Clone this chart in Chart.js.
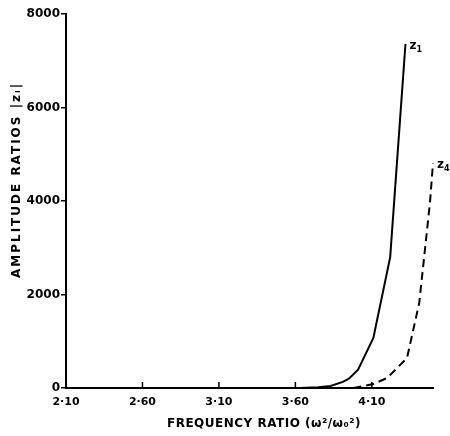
<!DOCTYPE html>
<html>
<head>
<meta charset="utf-8">
<script src="https://cdn.jsdelivr.net/npm/chart.js@4.4.1/dist/chart.umd.min.js"></script>
<style>
  html, body { margin: 0; padding: 0; background: #fff; }
  #wrap { width: 450px; height: 436px; }
</style>
</head>
<body>
<div id="wrap"><canvas id="chart" width="450" height="436"></canvas></div>
<script>
// frequency ratio / amplitude ratio readings
const freqZ1 = [3.63, 3.75, 3.83, 3.91, 3.95, 4.01, 4.11, 4.22, 4.32];
const ampZ1 = [0, 15, 45, 130, 200, 390, 1070, 2800, 7360];

const freqZ4 = [3.98, 4.11, 4.20, 4.33, 4.41, 4.48, 4.50];
const ampZ4 = [0, 85, 215, 640, 1820, 3960, 4810];

const xTicks = [2.10, 2.60, 3.10, 3.60, 4.10];
const yTicks = [0, 2000, 4000, 6000, 8000];

const xTitle = "FREQUENCY RATIO (ω²/ω₀²)";
const yTitle = "AMPLITUDE RATIOS |zᵢ|";

const FONT = "'DejaVu Sans', 'Liberation Sans', sans-serif";

function toPoints(xs, ys) {
  return xs.map((x, i) => ({ x: x, y: ys[i] }));
}

// inward tick marks on the x axis, axis titles, curve labels
const extras = {
  id: "extras",
  afterDatasetsDraw(chart) {
    const ctx = chart.ctx;
    const xs = chart.scales.x;
    const ys = chart.scales.y;
    const base = ys.getPixelForValue(0);
    ctx.save();
    ctx.strokeStyle = "#000";
    ctx.lineWidth = 1.5;
    xTicks.slice(1).forEach((v) => {
      const px = xs.getPixelForValue(v);
      ctx.beginPath();
      ctx.moveTo(px, base);
      ctx.lineTo(px, base - 6);
      ctx.stroke();
    });

    ctx.fillStyle = "#000";
    ctx.textAlign = "center";
    ctx.textBaseline = "middle";
    ctx.font = "bold 12px " + FONT;
    ctx.letterSpacing = "0.5px";
    ctx.fillText(xTitle, 264, 424);

    ctx.save();
    ctx.translate(17, 180);
    ctx.rotate(-Math.PI / 2);
    ctx.font = "bold 12px " + FONT;
    ctx.letterSpacing = "2px";
    ctx.fillText(yTitle, 0, 0);
    ctx.restore();
    ctx.letterSpacing = "0px";

    // curve names next to the top of each curve
    ctx.textAlign = "left";
    const n1 = freqZ1.length - 1;
    const n4 = freqZ4.length - 1;
    const labels = [
      { x: freqZ1[n1], y: ampZ1[n1], t: "z", s: "1" },
      { x: freqZ4[n4], y: ampZ4[n4], t: "z", s: "4" },
    ];
    labels.forEach((l) => {
      const px = xs.getPixelForValue(l.x) + 4;
      const py = ys.getPixelForValue(l.y) + 2;
      ctx.font = "bold 12px " + FONT;
      ctx.fillText(l.t, px, py);
      const w = ctx.measureText(l.t).width;
      ctx.font = "bold 8px " + FONT;
      ctx.fillText(l.s, px + w, py + 4);
    });
    ctx.restore();
  },
};

new Chart(document.getElementById("chart"), {
  type: "line",
  data: {
    datasets: [
      {
        label: "z1",
        data: toPoints(freqZ1, ampZ1),
        borderColor: "#000",
        borderWidth: 2,
        pointRadius: 0,
        tension: 0,
        fill: false,
      },
      {
        label: "z4",
        data: toPoints(freqZ4, ampZ4),
        borderColor: "#000",
        borderWidth: 2,
        borderDash: [8, 5],
        pointRadius: 0,
        tension: 0,
        fill: false,
      },
    ],
  },
  options: {
    responsive: false,
    animation: false,
    clip: false,
    layout: { padding: { top: 14, right: 17, left: 0, bottom: 0 } },
    plugins: {
      legend: { display: false },
      tooltip: { enabled: false },
    },
    scales: {
      x: {
        type: "linear",
        min: 2.10,
        max: 4.50,
        afterBuildTicks: (scale) => {
          scale.ticks = xTicks.map((v) => ({ value: v }));
        },
        afterFit: (scale) => {
          scale.height = 48;
        },
        border: { display: true, color: "#000", width: 2 },
        grid: { display: true, drawOnChartArea: false, drawTicks: false },
        ticks: {
          color: "#000",
          padding: 8,
          maxRotation: 0,
          font: { family: FONT, size: 11, weight: "bold" },
          callback: (v) => v.toFixed(2).replace(".", "·"),
        },
      },
      y: {
        type: "linear",
        min: 0,
        max: 8000,
        afterBuildTicks: (scale) => {
          scale.ticks = yTicks.map((v) => ({ value: v }));
        },
        afterFit: (scale) => {
          scale.width = 66;
        },
        border: { display: true, color: "#000", width: 2 },
        grid: {
          display: true,
          drawOnChartArea: false,
          drawTicks: true,
          tickLength: 5,
          color: "#000",
          lineWidth: 1.5,
        },
        ticks: {
          color: "#000",
          padding: 1,
          font: { family: FONT, size: 12, weight: "bold" },
          callback: (v) => String(v),
        },
      },
    },
  },
  plugins: [extras],
});
</script>
</body>
</html>
